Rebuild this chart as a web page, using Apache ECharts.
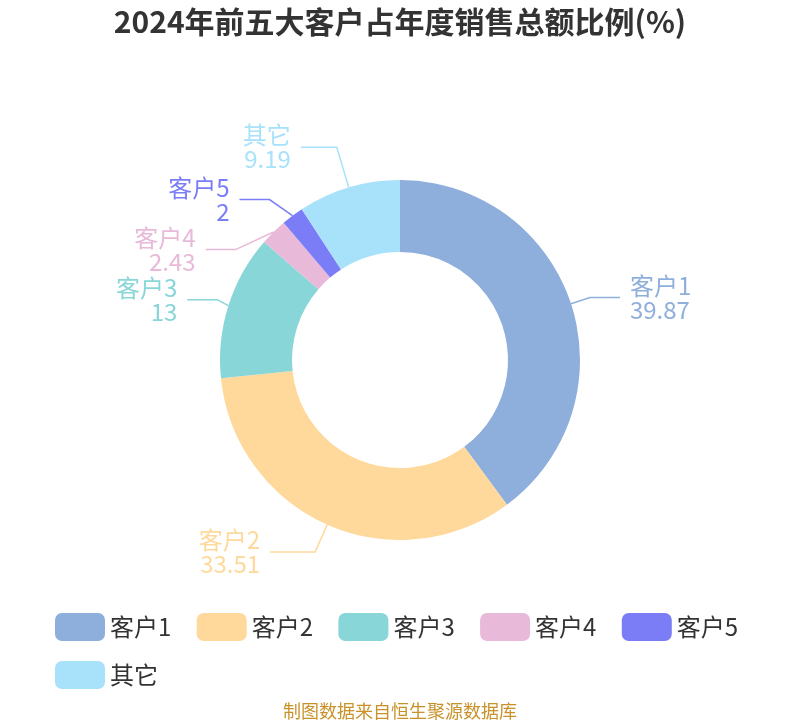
<!DOCTYPE html>
<html><head><meta charset="utf-8">
<script src="https://cdn.jsdelivr.net/npm/echarts@6/dist/echarts.min.js"></script>
<style>html,body{margin:0;padding:0;background:#fff}#c{width:800px;height:720px}</style>
</head><body><div id="c"></div>
<script>
var categories = ['客户1','客户2','客户3','客户4','客户5','其它'];
var values = [39.87, 33.51, 13, 2.43, 2, 9.19];
var colors = ['#8eaedb','#ffd99b','#88d6d8','#e8b9d8','#7b7df7','#a8e1fa'];
// label line lengths per slice (styling only)
var lineLen = {'客户2': [30, 45], '其它': [42, 36]};
var chart = echarts.init(document.getElementById('c'));
chart.setOption({
  title: {text: '2024年前五大客户占年度销售总额比例(%)', left: 'center', top: 2,
    textStyle: {fontSize: 30, fontWeight: 'bold', color: '#333', fontFamily: 'Noto Sans CJK SC'}},
  color: colors,
  legend: {bottom: 26, left: 50, right: 10, itemWidth: 50, itemHeight: 28, itemGap: 20,
    icon: 'roundRect',
    formatter: function (name) { return name + ' '; },
    textStyle: {fontSize: 24, color: '#333', fontFamily: 'Noto Sans CJK SC'},
    data: categories},
  graphic: [{type: 'text', left: 'center', bottom: 0,
    style: {text: '制图数据来自恒生聚源数据库', fontSize: 18, fill: '#c8922a', fontFamily: 'Noto Sans CJK SC'}}],
  series: [{
    type: 'pie', center: ['50%', '50%'], radius: ['30%', '50%'],
    startAngle: 90, clockwise: true,
    label: {formatter: '{b}\n{c}', fontSize: 24, lineHeight: 24, fontFamily: 'Noto Sans CJK SC', color: 'inherit', distanceToLabelLine: 10},
    labelLine: {length: 20, length2: 30, lineStyle: {width: 1.5}},
    data: categories.map(function(n, i){
      var d = {name: n, value: values[i]};
      if (lineLen[n]) d.labelLine = {length: lineLen[n][0], length2: lineLen[n][1]};
      return d;
    })
  }]
});
</script></body></html>
